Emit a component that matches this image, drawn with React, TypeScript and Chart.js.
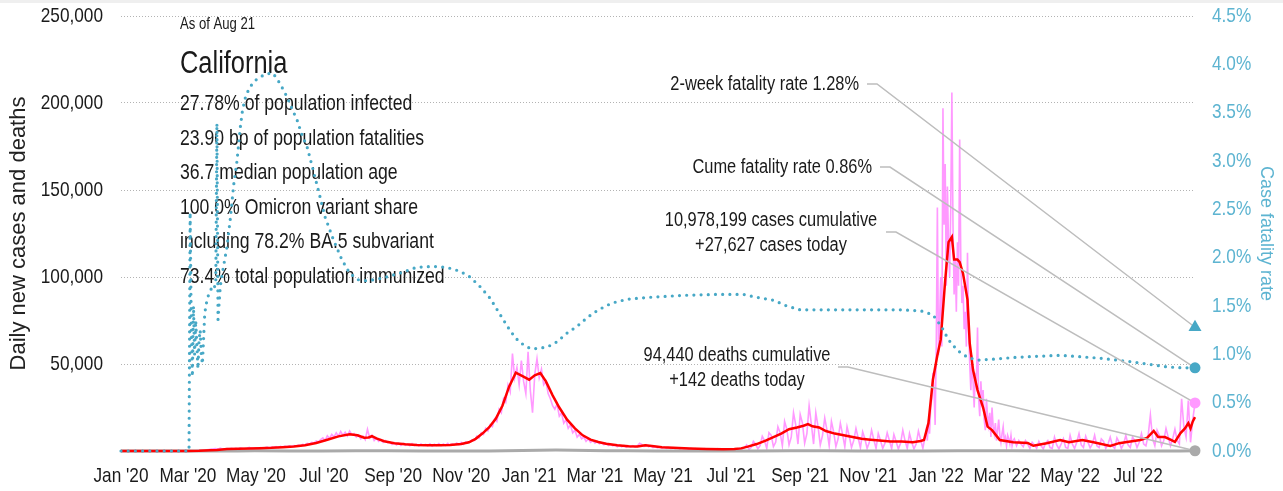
import React, { useEffect, useRef } from 'react';
import { Chart, registerables } from 'chart.js';

Chart.register(...registerables);

const SANS = "'Liberation Sans', Arial, sans-serif";
const SQUEEZE = 0.82; // horizontal compression to get a narrow grotesque look

// ---- x axis (day 0 = Jan 1 2020, last day = Aug 21 2022) ----
const lastDay = 963;
const monthTickDays = [0, 60, 121, 182, 244, 305, 366, 425, 486, 547, 609, 670, 731, 790, 851, 912];
const monthTickLabels = ["Jan '20", "Mar '20", "May '20", "Jul '20", "Sep '20", "Nov '20", "Jan '21", "Mar '21", "May '21", "Jul '21", "Sep '21", "Nov '21", "Jan '22", "Mar '22", "May '22", "Jul '22"];

// ---- daily new cases (thousands), segments: start day, step in days ----
const dailyCasesJanApr2020 = [
  0, 0, 0, 0, 0, 0, 0, 0, 0, 0,
  0, 0, 0, 0, 0, 0, 0, 0, 0, 0,
  0, 0, 0, 0, 0, 0, 0, 0, 0, 0,
  0, 0, 0.1, 0.1, 0.2, 0.3, 0.4, 0.5, 0.7, 0.9,
  1.1, 1.2, 1.4, 1.0, 1.6, 1.2, 1.1, 1.4, 1.3, 1.6,
  1.1, 1.5, 1.2, 1.8, 1.4, 1.3, 1.6, 2.1, 1.5, 1.4,
];
const dailyCasesMayJun2020 = [
  1.8, 1.5, 2.0, 1.7, 1.9, 2.3, 1.6, 2.2, 2.0, 2.5,
  1.9, 2.6, 2.2, 2.8, 2.4, 2.9, 2.6, 3.1, 2.8, 3.4,
  3.0, 3.8, 3.5, 4.4, 4.0, 5.0, 4.6, 5.8, 5.2, 6.5,
];
const dailyCasesJulAug2020 = [
  7.5, 6.0, 8.8, 7.2, 9.5, 8.0, 10.5, 8.5, 11.2, 9.0,
  10.8, 8.6, 11.5, 9.2, 10.0, 8.0, 9.2, 7.0, 8.5, 6.5,
  12.5, 7.5, 9.0, 6.0, 7.5, 5.5, 6.5, 5.0, 6.0, 4.8,
];
const dailyCasesSepOct2020 = [
  5.2, 3.8, 4.8, 3.5, 4.5, 3.2, 4.4, 3.3, 4.0, 3.0,
  4.2, 3.1, 3.9, 2.9, 4.0, 3.2, 3.8, 3.0, 4.1, 2.8,
  3.9, 3.1, 4.3, 3.0, 4.0, 3.2, 4.4, 3.3, 4.1, 3.5,
  4.6, 3.6, 5.0, 3.8, 5.2,
];
const dailyCasesNovDec2020 = [
  4.8, 5.5, 6.5, 6.0, 8.5, 7.5, 10.5, 9.5, 13.0, 11.5,
  15.0, 14.0, 18.5, 17.0, 24.0, 22.0, 30.0, 28.0, 38.0, 34.0,
];
const dailyCasesWinter2021 = [
  56, 42, 48, 38, 52, 40, 33, 57, 35, 22,
  44, 53, 42, 47, 38, 40, 33, 30, 26, 24,
];
const dailyCasesFeb2021 = [
  27, 20, 22, 16, 18, 13, 15, 10.5, 12, 8,
  9.5, 7, 8, 5.5, 7, 5, 6, 4.5, 5.5, 4.2,
];
const dailyCasesSpring2021 = [
  4.8, 3.6, 4.5, 3.2, 4.0, 3.0, 3.6, 2.5, 3.4, 2.4,
  3.2, 2.2, 3.0, 2.3, 3.1, 2.2, 2.9, 4.5, 3.8, 2.6,
  3.6, 2.4, 3.0, 2.0, 2.6, 1.8, 2.4, 1.6, 2.2, 1.5,
  2.0, 1.4, 1.9, 1.3, 1.8, 1.2, 1.7, 1.3, 1.6, 1.1,
  1.5, 1.0, 1.4, 1.0, 1.3, 0.9, 1.4, 0.8, 1.3, 1.0,
  1.2, 0.7, 1.4, 0.8, 1.2, 0.9, 1.1, 0.6, 1.3, 0.9,
  1.1, 0.8, 1.6, 1.2, 2.0,
];
const dailyCasesDelta2021 = [
  3.5, 1.0, 2.0, 5.5, 4.0, 1.2, 3.0, 8.5, 6.0, 1.5,
  10.5, 9.0, 2.5, 5.0, 14.0, 10.5, 3.0, 17.0, 12.5, 3.5,
  8.0, 22.0, 15.0, 4.0, 21.0, 16.0, 4.5, 10.0, 26.0, 15.5,
  4.0, 22.0, 14.0, 3.5, 9.0, 19.0, 12.0, 3.0, 17.0, 11.0,
  2.5, 7.0, 16.0, 9.5, 2.5, 14.0, 8.5, 2.0, 6.0, 13.0,
  7.5, 1.8, 11.0, 7.0, 1.5, 5.0, 12.0, 6.5, 1.5, 10.0,
  6.0, 1.5, 4.5, 10.5, 6.0, 1.3, 9.5, 5.5, 1.2, 4.5,
  12.0, 6.0, 1.5, 10.0, 5.0, 1.2, 4.0, 11.5, 6.5, 1.5,
];
const dailyCasesOmicron = [
  5, 8, 12, 6, 18, 10, 25, 30, 45, 35,
  15, 60, 140, 55, 75, 100, 60, 197, 130, 165,
  95, 152, 120, 100, 140, 206, 130, 90, 110, 80,
  120, 95, 179, 110, 85, 95, 70, 80, 60, 114,
  70, 50, 35, 55, 40, 25, 45, 40, 71, 30,
  20, 40, 28, 35, 18, 12, 30, 20, 15, 22,
  8, 25, 14, 10, 16, 6, 12, 18, 9, 5,
  10, 14, 6, 8, 3, 9, 7, 4, 9, 3,
  6,
];
const dailyCasesSummer2022 = [
  7, 3, 6, 4, 2.5, 6, 4, 1.5, 5, 3.5,
  1.5, 5.5, 3, 1.2, 4.5, 6, 2, 1.5, 8, 3.5,
  1.2, 4, 7, 2, 1.5, 9, 4, 1.5, 5, 10,
  3.5, 2, 8.5, 5, 1.8, 4, 9, 3, 2, 7,
  5.5, 1.5, 4, 8, 3, 1.5, 7.5, 5, 1.5, 4,
  9, 3.5, 2, 8, 6, 2, 5, 10, 4, 3,
  9, 20.7, 7, 3, 12, 9, 3, 6, 13, 8,
  3, 7, 12.6, 6, 4, 30, 14, 8, 29, 5,
  18, 27.627,
];
const caseSegmentStarts = [1, 121, 181, 241, 311, 351, 391, 431, 561, 720, 801];
const caseSegmentSteps = [2, 2, 2, 2, 2, 2, 2, 2, 2, 1, 2];
const caseSegments = [
  dailyCasesJanApr2020, dailyCasesMayJun2020, dailyCasesJulAug2020, dailyCasesSepOct2020,
  dailyCasesNovDec2020, dailyCasesWinter2021, dailyCasesFeb2021, dailyCasesSpring2021,
  dailyCasesDelta2021, dailyCasesOmicron, dailyCasesSummer2022,
];

// ---- 7-day average of new cases (thousands) ----
const avgDays = [
  0, 60, 70, 80, 86, 95, 105, 115, 125, 135,
  145, 155, 165, 175, 185, 195, 205, 212, 218, 222,
  225, 229, 236, 245, 255, 265, 275, 285, 295, 305,
  312, 318, 324, 330, 336, 342, 348, 354, 360, 366,
  371, 376, 381, 387, 393, 400, 407, 414, 421, 428,
  435, 445, 455, 463, 470, 476, 485, 495, 510, 525,
  540, 550, 556, 562, 570, 578, 585, 592, 599, 606,
  612, 616, 620, 626, 632, 640, 648, 656, 664, 672,
  680, 690, 700, 710, 717, 720, 724, 728, 732, 735,
  739, 742, 745, 747, 750, 752, 755, 759, 761, 764,
  768, 770, 773, 777, 781, 788, 800, 813, 818, 830,
  842, 850, 862, 872, 887, 895, 902, 914, 920, 926,
  930, 936, 941, 945, 950, 954, 957, 959, 961, 963,
];
const avgCasesK = [
  0, 0, 0.1, 0.4, 0.6, 1.1, 1.3, 1.4, 1.6, 1.8,
  2.2, 2.6, 3.3, 4.6, 6.5, 8.4, 9.6, 9.0, 7.6, 7.8,
  8.5, 7.2, 5.6, 4.5, 3.9, 3.5, 3.3, 3.3, 3.5, 4.0,
  5.0, 7.0, 10.0, 13.5, 18.5, 26, 37, 45, 43, 41,
  43.5, 44.8, 40, 32, 25, 18, 13, 9, 6.5, 5.2,
  4.2, 3.3, 2.8, 2.6, 3.3, 2.9, 2.2, 1.8, 1.4, 1.1,
  1.0, 1.1, 1.5, 2.5, 4.0, 6.0, 8.0, 10.0, 12.5, 13.5,
  14.5, 15.5, 14.2, 13.5, 11.5, 10.0, 9.0, 8.0, 7.0, 6.5,
  6.0, 5.5, 5.5, 5.0, 5.8, 6.3, 16, 41, 55, 64,
  98, 120, 123, 110, 110, 108.6, 102, 87, 62, 46.5,
  35, 31, 25, 14, 12, 6.3, 5.0, 4.6, 3.0, 4.5,
  6.3, 5.0, 6.3, 5.0, 2.9, 4.5, 5.2, 6.3, 7.5, 11.5,
  8, 8, 6.5, 5.2, 10.3, 13, 16, 13, 17, 19.5,
];

// ---- daily deaths ----
const deathDays = [0, 60, 75, 90, 105, 120, 150, 180, 210, 240, 270, 300, 330, 345, 360, 375, 390, 405, 420, 435, 455, 480, 510, 540, 570, 600, 630, 660, 690, 720, 750, 780, 800, 830, 860, 890, 920, 950, 963];
const deathValues = [0, 0, 5, 40, 70, 75, 65, 70, 130, 110, 70, 50, 60, 150, 300, 500, 560, 450, 300, 180, 80, 50, 30, 25, 30, 80, 100, 60, 40, 40, 100, 180, 120, 40, 15, 25, 30, 40, 142];

// ---- case fatality rate (%) ----
const cfrDays = [
  0, 61, 62, 63, 64, 65, 66, 67, 68, 69,
  70, 71, 72, 73, 74, 75, 76, 77, 78, 79,
  80, 81, 82, 83, 84, 85, 86, 87, 89, 91,
  93, 95, 98, 101, 104, 107, 109, 112, 116, 120,
  125, 130, 136, 140, 144, 149, 153, 158, 162, 167,
  172, 178, 183, 190, 198, 205, 213, 221, 235, 250,
  265, 280, 292, 304, 313, 322, 331, 340, 347, 353,
  358, 367, 374, 383, 391, 400, 409, 418, 428, 440,
  454, 474, 504, 535, 558, 570, 585, 597, 609, 639,
  669, 699, 717, 728, 736, 742, 750, 759, 768, 782,
  804, 842, 878, 908, 938, 952, 963,
];
const cfrPct = [
  0, 0, 2.47, 1.3, 0.77, 1.5, 1.0, 1.35, 1.1, 0.85,
  1.15, 1.25, 1.0, 0.9, 1.15, 1.4, 1.5, 1.55, 1.6, 1.62,
  1.65, 1.68, 1.7, 1.72, 1.7, 1.75, 3.39, 1.36, 1.7, 1.85,
  1.98, 2.11, 2.4, 2.75, 3.0, 3.35, 3.53, 3.68, 3.77, 3.83,
  3.87, 3.9, 3.91, 3.85, 3.77, 3.66, 3.55, 3.42, 3.28, 3.14,
  2.92, 2.65, 2.42, 2.2, 1.98, 1.84, 1.77, 1.76, 1.79, 1.84,
  1.9, 1.91, 1.9, 1.86, 1.8, 1.7, 1.58, 1.41, 1.28, 1.18,
  1.12, 1.06, 1.06, 1.08, 1.13, 1.22, 1.29, 1.38, 1.46, 1.53,
  1.57, 1.59, 1.61, 1.62, 1.62, 1.59, 1.56, 1.5, 1.46, 1.46,
  1.46, 1.46, 1.45, 1.41, 1.28, 1.15, 1.04, 0.97, 0.94, 0.95,
  0.97, 0.99, 0.96, 0.92, 0.87, 0.86, 0.86,
];

// ---- latest figures ----
const twoWeekCfr = 1.28;
const cumeCfr = 0.86;
const casesToday = 27627;
const deathsToday = 142;
const casesCumulative = 10978199;
const deathsCumulative = 94440;

const asOfText = 'As of Aug 21';
const stateName = 'California';
const statLines = [
  '27.78% of population infected',
  '23.90 bp of population fatalities',
  '36.7 median population age',
  '100.0% Omicron variant share',
  'including 78.2% BA.5 subvariant',
  '73.4% total population immunized',
];

// ---- colours ----
const PINK = '#ff99ff';
const RED = '#ff0000';
const GREY = '#aaaaaa';
const CYAN = '#47a8c6';
const CYAN_TEXT = '#5db4d1';
const LEADER = '#bdbdbd';
const INK = '#1a1a1a';

const fmt = (n: number) => n.toLocaleString('en-US');

// annotation layout (canvas px)
const annotations = [
  { lines: [`2-week fatality rate ${twoWeekCfr.toFixed(2)}%`], align: 'right', tx: 859, ty: [84], lx: 867, ly: 84, axis: 'y1', value: twoWeekCfr },
  { lines: [`Cume fatality rate ${cumeCfr.toFixed(2)}%`], align: 'right', tx: 872, ty: [167], lx: 880, ly: 167, axis: 'y1', value: cumeCfr },
  { lines: [`${fmt(casesCumulative)} cases cumulative`, `+${fmt(casesToday)} cases today`], align: 'center', tx: 771, ty: [220, 245], lx: 886, ly: 232, axis: 'y', value: casesToday },
  { lines: [`${fmt(deathsCumulative)} deaths cumulative`, `+${deathsToday} deaths today`], align: 'center', tx: 737, ty: [355, 380], lx: 838, ly: 367, axis: 'y', value: deathsToday },
];

function narrowText(ctx: CanvasRenderingContext2D, text: string, x: number, y: number, size: number, align: CanvasTextAlign, baseline: CanvasTextBaseline, color: string) {
  ctx.save();
  ctx.font = `${size}px ${SANS}`;
  ctx.fillStyle = color;
  ctx.textAlign = align;
  ctx.textBaseline = baseline;
  ctx.translate(x, y);
  ctx.scale(SQUEEZE, 1);
  ctx.fillText(text, 0, 0);
  ctx.restore();
}

const overlayPlugin = {
  id: 'overlay',
  beforeDraw(chart: any) {
    const { ctx, width } = chart;
    ctx.save();
    ctx.fillStyle = '#efefef';
    ctx.fillRect(0, 0, width, 3);
    ctx.restore();
  },
  beforeDatasetsDraw(chart: any) {
    const { ctx, chartArea, scales } = chart;
    // axis tick labels
    scales.y.ticks.forEach((t: any) => {
      if (t.value === 0) return;
      narrowText(ctx, fmt(t.value), chartArea.left - 18, scales.y.getPixelForValue(t.value), 21, 'right', 'middle', INK);
    });
    scales.y1.ticks.forEach((t: any) => {
      narrowText(ctx, `${Number(t.value).toFixed(1)}%`, chartArea.right + 17, scales.y1.getPixelForValue(t.value), 21, 'left', 'middle', CYAN_TEXT);
    });
    monthTickDays.forEach((d, i) => {
      narrowText(ctx, monthTickLabels[i], scales.x.getPixelForValue(d), chartArea.bottom + 31, 21, 'center', 'alphabetic', INK);
    });
    // info block
    const x = chartArea.left + 59;
    narrowText(ctx, asOfText, x, chartArea.top + 13, 16, 'left', 'alphabetic', INK);
    narrowText(ctx, stateName, x, chartArea.top + 57, 31, 'left', 'alphabetic', INK);
    statLines.forEach((t, i) => narrowText(ctx, t, x, chartArea.top + 94 + i * 34.6, 21.5, 'left', 'alphabetic', INK));
    chart.$leadersDone = false;
  },
  beforeDatasetDraw(chart: any, args: any) {
    if (args.index < 4 || chart.$leadersDone) return;
    chart.$leadersDone = true;
    const { ctx } = chart;
    const xs = chart.scales.x;
    ctx.save();
    ctx.strokeStyle = LEADER;
    ctx.lineWidth = 1.5;
    annotations.forEach((a) => {
      const ex = xs.getPixelForValue(lastDay);
      const ey = chart.scales[a.axis].getPixelForValue(a.value);
      ctx.beginPath();
      ctx.moveTo(a.lx, a.ly);
      ctx.lineTo(a.lx + 10, a.ly);
      ctx.lineTo(ex, ey);
      ctx.stroke();
    });
    ctx.restore();
  },
  afterDatasetsDraw(chart: any) {
    const { ctx } = chart;
    annotations.forEach((a) => {
      a.lines.forEach((t, i) => narrowText(ctx, t, a.tx, a.ty[i], 20, a.align as CanvasTextAlign, 'middle', INK));
    });
  },
};

export default function App() {
  const ref = useRef<HTMLCanvasElement>(null);
  useEffect(() => {
    document.body.style.margin = '0';
    const casePoints: { x: number; y: number }[] = [];
    caseSegments.forEach((seg, s) => {
      seg.forEach((v, i) => casePoints.push({ x: caseSegmentStarts[s] + i * caseSegmentSteps[s], y: v * 1000 }));
    });
    casePoints.sort((a, b) => a.x - b.x);
    const avgPoints = avgDays.map((d, i) => ({ x: d, y: avgCasesK[i] * 1000 }));
    const deathPoints = deathDays.map((d, i) => ({ x: d, y: deathValues[i] }));
    const cfrPoints = cfrDays.map((d, i) => ({ x: d, y: cfrPct[i] }));

    const chart = new Chart(ref.current as HTMLCanvasElement, {
      type: 'line',
      data: {
        datasets: [
          { data: casePoints, borderColor: PINK, borderWidth: 1.6, pointRadius: 0, yAxisID: 'y', order: 6, clip: false } as any,
          { data: deathPoints, borderColor: GREY, borderWidth: 3, pointRadius: 0, yAxisID: 'y', order: 5, clip: false } as any,
          { data: avgPoints, borderColor: RED, borderWidth: 2.5, pointRadius: 0, yAxisID: 'y', order: 4, clip: false } as any,
          { data: cfrPoints, borderColor: CYAN, borderWidth: 3.2, borderDash: [0, 7.2], borderCapStyle: 'round', pointRadius: 0, yAxisID: 'y1', order: 3, clip: false } as any,
          {
            data: [{ x: lastDay, y: casesToday }, { x: lastDay, y: deathsToday }],
            showLine: false, pointRadius: 5.5, pointBorderWidth: 0,
            pointBackgroundColor: [PINK, GREY], pointBorderColor: [PINK, GREY],
            yAxisID: 'y', order: 1, clip: false,
          } as any,
          {
            data: [{ x: lastDay, y: twoWeekCfr }, { x: lastDay, y: cumeCfr }],
            showLine: false, pointRadius: [7.5, 5.5], pointBorderWidth: 0,
            pointStyle: ['triangle', 'circle'],
            pointBackgroundColor: CYAN, pointBorderColor: CYAN,
            yAxisID: 'y1', order: 0, clip: false,
          } as any,
        ],
      },
      options: {
        animation: false,
        responsive: true,
        maintainAspectRatio: false,
        events: [],
        layout: { padding: { top: 16, left: 0, right: 0, bottom: 0 } },
        plugins: { legend: { display: false }, tooltip: { enabled: false } },
        scales: {
          x: {
            type: 'linear',
            min: 0,
            max: lastDay,
            grid: { display: false },
            border: { display: false },
            afterBuildTicks: (scale: any) => {
              scale.ticks = monthTickDays.map((v) => ({ value: v }));
            },
            afterFit: (scale: any) => { scale.height = 40; },
            ticks: { display: false },
          },
          y: {
            position: 'left',
            min: 0,
            max: 250000,
            afterFit: (scale: any) => { scale.width = 121; },
            grid: {
              drawTicks: false,
              color: (c: any) => (c.tick && c.tick.value === 0 ? 'rgba(0,0,0,0)' : '#b3b3b3'),
              lineWidth: 1,
            },
            border: { display: false, dash: [1, 2] },
            ticks: { display: false, stepSize: 50000 },
            title: {
              display: true,
              text: 'Daily new cases and deaths',
              color: '#222',
              font: { family: SANS, size: 22 },
              padding: { top: 6, bottom: 0 },
            },
          },
          y1: {
            position: 'right',
            min: 0,
            max: 4.5,
            afterFit: (scale: any) => { scale.width = 88; },
            grid: { display: false, drawTicks: false },
            border: { display: false },
            ticks: { display: false, stepSize: 0.5 },
            title: {
              display: true,
              text: 'Case fatality rate',
              color: CYAN_TEXT,
              font: { family: SANS, size: 18 },
              padding: { top: 6, bottom: 0 },
            },
          },
        },
      } as any,
      plugins: [overlayPlugin],
    });
    return () => chart.destroy();
  }, []);

  return (
    <div style={{ width: 1283, height: 491, position: 'relative', background: '#fff' }}>
      <canvas ref={ref} />
    </div>
  );
}
